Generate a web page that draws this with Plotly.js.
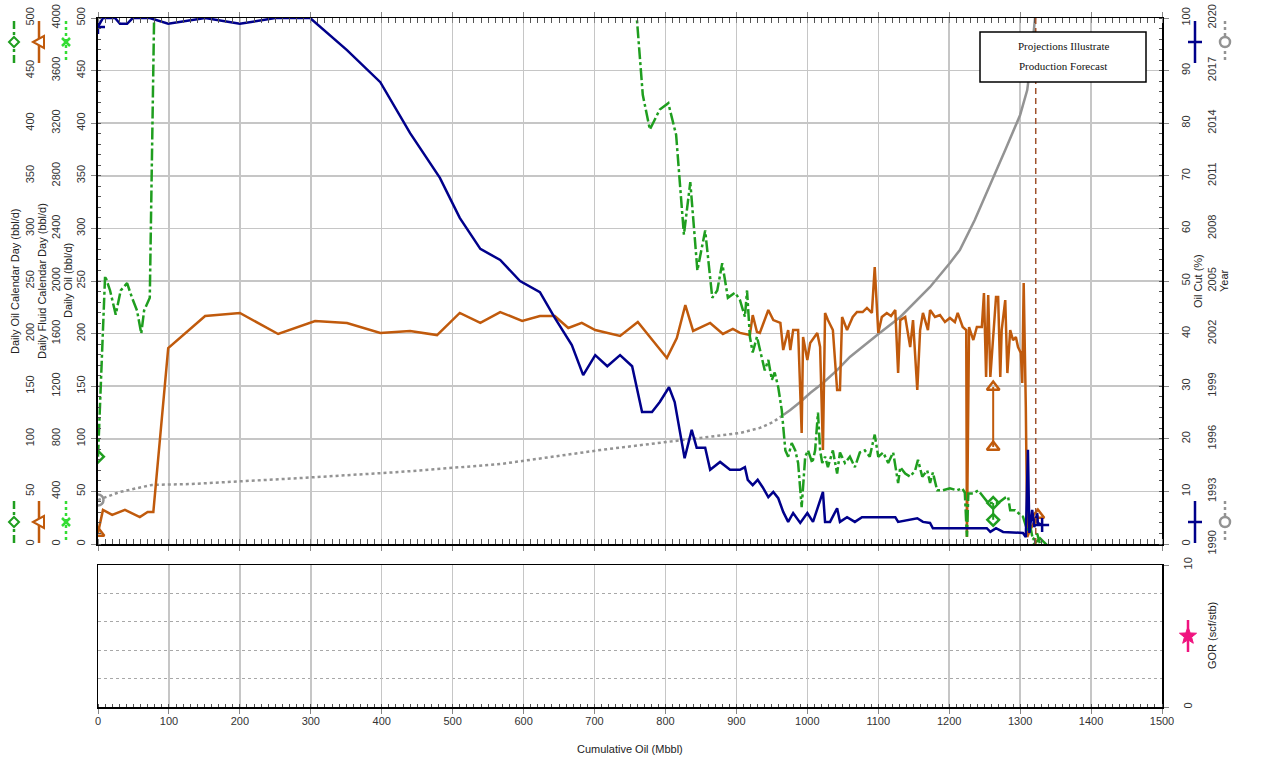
<!DOCTYPE html>
<html>
<head>
<meta charset="utf-8">
<script src="https://cdn.plot.ly/plotly-3.0.1.min.js"></script>
<style>html,body{margin:0;padding:0;background:#fff}#chart{width:1284px;height:758px}</style>
</head>
<body>
<div id="chart"></div>
<script>
// ---------------- DATA ----------------
// Daily Fluid Calendar Day (bbl/d) vs cumulative oil (Mbbl)
const fluidCum = [0,7,20,38,59,70,78,99,151,200,254,306,351,398,440,478,510,539,567,598,623,644,663,682,701,736,761,781,802,816,828,839,863,881,895,905,919,923,929,933,945,952,962,966,973,976,980,987,992,994,1000,1004,1014,1018,1022,1025,1029,1036,1042,1046,1049,1056,1064,1070,1078,1084,1091,1095,1100,1105,1112,1118,1124,1128,1131,1138,1145,1149,1155,1159,1163,1170,1173,1180,1187,1194,1201,1208,1212,1219,1224,1225,1228,1234,1239,1246,1249,1252,1255,1258,1266,1269,1272,1274,1279,1282,1286,1290,1294,1297,1301,1303,1305,1308,1310,1314,1325];
const fluidRate = [84,259,221,259,205,243,243,1490,1734,1757,1597,1696,1681,1605,1620,1589,1757,1681,1764,1696,1734,1734,1643,1681,1627,1582,1688,1551,1414,1567,1817,1620,1681,1597,1635,1605,1589,1741,1612,1605,1779,1703,1681,1475,1627,1475,1627,1627,844,1574,1399,1529,1605,1498,715,1757,1703,1627,1171,1171,1726,1627,1726,1764,1764,1795,1757,2106,1605,1726,1757,1734,1779,1300,1703,1726,1498,1703,1171,1627,1757,1627,1779,1726,1741,1688,1719,1688,1757,1650,1627,53,1650,1551,1650,1650,1909,1270,1894,1270,1878,1878,1270,1627,1855,1300,1627,1551,1574,1498,1452,1224,1985,1042,53,106,220];
const fluidProjCum = [1262,1262];
const fluidProjRate = [1194,738];

// Daily Oil Calendar Day (bbl/d)
const oilCalCum = [0,10,17,25,32,41,48,55,61,65,73,80,755,768,778,792,804,815,826,835,845,856,866,873,880,888,898,905,912,915,919,923,929,936,940,945,950,954,959,964,969,973,978,983,987,992,997,1001,1007,1011,1015,1018,1021,1025,1029,1036,1042,1046,1053,1060,1067,1074,1081,1088,1095,1100,1107,1114,1121,1128,1131,1138,1145,1152,1156,1162,1169,1173,1177,1183,1191,1201,1211,1218,1222,1225,1227,1234,1241,1248,1255,1262,1269,1279,1283,1286,1293,1300,1304,1310,1314,1318,1324,1328];
const oilCalRate = [83,255,241,218,241,248,234,222,200,222,234,540,540,427,394,413,419,389,294,344,260,298,234,241,267,234,239,232,216,241,197,182,197,178,165,175,156,163,149,127,89,83,96,89,77,35,83,89,77,89,125,89,77,83,73,89,67,87,77,83,73,87,89,83,104,83,87,77,87,58,73,67,64,70,80,64,70,58,68,51,51,53,51,53,49,7,48,48,51,45,39,39,39,44,45,32,32,28,26,13,18,4,10,0];
const oilCalProjCum = [1262,1262];
const oilCalProjRate = [39,23];

// Oil Cut (%)
const oilCutCum = [0,7,24,31,41,49,73,99,151,200,250,299,351,398,440,482,510,539,567,595,623,644,668,684,701,718,736,753,767,781,792,805,813,827,837,844,856,863,877,891,905,912,916,923,930,937,945,952,959,966,973,980,990,1000,1008,1015,1022,1025,1032,1042,1046,1056,1067,1077,1112,1124,1128,1155,1163,1173,1177,1253,1258,1266,1276,1304,1308,1311,1313,1317,1320,1324,1325,1331];
const oilCutPct = [98.3,100,100,98.9,98.9,100,100,98.9,100,98.9,100,100,93.9,87.8,78.1,69.6,62.0,56.1,54.0,50.0,47.9,43.0,37.8,32.1,35.9,33.8,35.9,33.8,25.1,25.1,27.0,29.8,27.0,16.3,21.7,18.3,18.3,14.1,15.6,14.1,14.1,14.6,12.2,11.2,12.2,10.8,8.9,9.9,8.7,6.1,4.2,5.9,4.0,5.9,4.2,7.0,9.9,4.2,4.2,6.8,4.2,5.1,4.2,5.1,5.1,5.1,4.2,4.9,4.2,4.0,3.0,3.0,2.3,3.0,2.3,2.1,1.3,17.9,2.1,6.5,3.2,5.9,4.0,3.6];

// Year (history, dotted) and projection (solid)
const yearCum = [0,31,76,130,285,426,567,708,849,905,933,952,966];
const yearVal = [1992.51,1992.97,1993.37,1993.42,1993.76,1994.11,1994.56,1995.36,1996.05,1996.33,1996.62,1996.96,1997.36];
const yearProjCum = [966,976,990,1004,1022,1042,1060,1084,1102,1131,1145,1173,1201,1215,1236,1258,1279,1300,1310,1315,1321];
const yearProjVal = [1997.36,1997.64,1998.10,1998.61,1999.18,1999.92,2000.67,2001.46,2002.03,2002.95,2003.52,2004.66,2006.03,2006.77,2008.48,2010.48,2012.47,2014.47,2015.89,2017.49,2020.0];

const forecastStartCum = 1322;

// Labels
const xTitle = 'Cumulative Oil (Mbbl)';
const leftTitles = ['Daily Oil Calendar Day (bbl/d)', 'Daily Fluid Calendar Day (bbl/d)', 'Daily Oil (bbl/d)'];
const rightTitles = ['Oil Cut (%)', 'Year'];
const gorTitle = 'GOR (scf/stb)';
const noteLines = ['Projections Illustrate', 'Production Forecast'];

// ---------------- STYLE / LAYOUT ----------------
const W = 1284, H = 758;
const X = p => p / W;
const Y = p => 1 - p / H;
const C = {navy:'#00008b', orange:'#c05a0c', green:'#1f9e1f', lime:'#33dd33', gray:'#939393', grid:'#c6c6c6', magenta:'#f0137f', brown:'#a0522d'};
const greenDash = '12px,3px,3px,3px';
const tickFont = {family:'Liberation Sans, Arial, sans-serif', size:11, color:'#333'};

const xDom = [X(98), X(1162)];
const topDom = [Y(544), Y(18)];
const botDom = [Y(707), Y(565)];

const first = a => [a[0]];
const last = a => [a[a.length-1]];

const traces = [
  {x:[], y:[], xaxis:'x', yaxis:'y', type:'scatter', hoverinfo:'skip'},
  {x:[], y:[], xaxis:'x2', yaxis:'y2', type:'scatter', hoverinfo:'skip'},
  // Year (y3)
  {x:yearCum, y:yearVal, xaxis:'x', yaxis:'y3', mode:'lines', line:{color:C.gray, width:2.5, dash:'dot'}},
  {x:yearProjCum, y:yearProjVal, xaxis:'x', yaxis:'y3', mode:'lines', line:{color:C.gray, width:2.5}},
  {x:first(yearCum), y:first(yearVal), xaxis:'x', yaxis:'y3', mode:'markers', marker:{symbol:'circle-open', size:11, color:C.gray, line:{width:2.5}}},
  // Fluid (y4)
  {x:fluidCum, y:fluidRate, xaxis:'x', yaxis:'y4', mode:'lines', line:{color:C.orange, width:2.5}},
  {x:fluidProjCum, y:fluidProjRate, xaxis:'x', yaxis:'y4', mode:'lines+markers', line:{color:C.orange, width:2}, marker:{symbol:'triangle-up-open', size:11, color:C.orange, line:{width:2.5}}},
  {x:first(fluidCum).concat(last(fluidCum)), y:first(fluidRate).concat(last(fluidRate)), xaxis:'x', yaxis:'y4', mode:'markers', marker:{symbol:'triangle-up-open', size:11, color:C.orange, line:{width:2.5}}},
  // Oil calendar day (y5)
  {x:oilCalCum, y:oilCalRate, xaxis:'x', yaxis:'y5', mode:'lines', line:{color:C.green, width:2.5, dash:greenDash}},
  {x:oilCalProjCum, y:oilCalProjRate, xaxis:'x', yaxis:'y5', mode:'lines+markers', line:{color:C.green, width:2}, marker:{symbol:'diamond-open', size:9, color:C.green, line:{width:2.5}}},
  {x:first(oilCalCum).concat(last(oilCalCum)), y:first(oilCalRate).concat(last(oilCalRate)), xaxis:'x', yaxis:'y5', mode:'markers', marker:{symbol:'diamond-open', size:9, color:C.green, line:{width:2.5}}},
  // Oil cut (y6)
  {x:oilCutCum, y:oilCutPct, xaxis:'x', yaxis:'y6', mode:'lines', line:{color:C.navy, width:2.5}},
  {x:first(oilCutCum).concat(last(oilCutCum)), y:first(oilCutPct).concat(last(oilCutPct)), xaxis:'x', yaxis:'y6', mode:'markers', marker:{symbol:'cross-thin-open', size:10, color:C.navy, line:{width:2.5, color:C.navy}}}
];

const baseY = {tickangle:-90, tickfont:tickFont, zeroline:false, showgrid:false, fixedrange:true};

const layout = {
  width:W, height:H, margin:{l:0,r:0,t:0,b:0},
  paper_bgcolor:'#fff', plot_bgcolor:'rgba(0,0,0,0)', showlegend:false,
  font:tickFont,
  xaxis:{domain:xDom, anchor:'y', range:[0,1500], dtick:100, tick0:0, showticklabels:false,
    showgrid:true, gridcolor:C.grid, gridwidth:1.5, zeroline:false,
    showline:true, linecolor:'#000', linewidth:1.5, mirror:'allticks',
    ticks:'outside', ticklen:5, tickcolor:'#888', minor:{dtick:10, ticks:'inside', ticklen:3, tickcolor:'#555'}},
  yaxis:Object.assign({}, baseY, {domain:topDom, anchor:'x', range:[0,500], dtick:50, side:'left',
    showgrid:true, gridcolor:C.grid, gridwidth:1.5,
    showline:true, linecolor:'#000', linewidth:2, mirror:true,
    ticks:'outside', ticklen:5, tickcolor:'#888', ticklabelstandoff:2,
    minor:{dtick:10, ticks:'inside', ticklen:3, tickcolor:'#555'}}),
  yaxis3:Object.assign({}, baseY, {overlaying:'y', anchor:'free', position:X(1204), side:'right', range:[1990,2020], tick0:1990, dtick:3, showline:false, ticks:''}),
  yaxis4:Object.assign({}, baseY, {overlaying:'y', anchor:'free', position:X(62), side:'left', range:[0,4000], dtick:400, showline:false, ticks:''}),
  yaxis5:Object.assign({}, baseY, {overlaying:'y', anchor:'free', position:X(36), side:'left', range:[0,500], dtick:50, showline:false, ticks:''}),
  yaxis6:Object.assign({}, baseY, {overlaying:'y', anchor:'x', side:'right', range:[0,100], dtick:10,
    showline:true, linecolor:'#000', linewidth:1.5, ticks:'outside', ticklen:5, tickcolor:'#888', ticklabelstandoff:8,
    minor:{dtick:2, ticks:'inside', ticklen:3, tickcolor:'#555'}}),
  xaxis2:{domain:xDom, anchor:'y2', range:[0,1500], dtick:100, tick0:0, tickfont:tickFont,
    showgrid:true, gridcolor:C.grid, gridwidth:1.5, zeroline:false,
    showline:true, linecolor:'#000', linewidth:1.5, mirror:true,
    ticks:'outside', ticklen:5, tickcolor:'#888', ticklabelstandoff:-2,
    minor:{dtick:10, ticks:'inside', ticklen:3, tickcolor:'#555'}},
  yaxis2:Object.assign({}, baseY, {domain:botDom, anchor:'x2', side:'right', range:[0,10], tickvals:[0,10],
    showline:true, linecolor:'#000', linewidth:1.5, mirror:true, ticks:'outside', ticklen:5, tickcolor:'#888', ticklabelstandoff:10,
    minor:{dtick:2, showgrid:true, griddash:'dot', gridcolor:'#a8a8a8', gridwidth:1, ticks:''}}),
  shapes:[], annotations:[]
};

// forecast marker line
layout.shapes.push({type:'line', xref:'x', yref:'paper', x0:forecastStartCum, x1:forecastStartCum, y0:topDom[0], y1:topDom[1],
  line:{color:C.brown, width:1.5, dash:'6px,4px'}, layer:'above'});
// note box
layout.shapes.push({type:'rect', xref:'paper', yref:'paper', x0:X(980), x1:X(1146), y0:Y(82), y1:Y(32),
  line:{color:'#000', width:1.5}, fillcolor:'#fff', layer:'above'});
noteLines.forEach((t,i) => layout.annotations.push({xref:'paper', yref:'paper', x:X(1063), y:Y(46+i*20), text:t, showarrow:false,
  xanchor:'center', yanchor:'middle', font:{family:'Liberation Serif, Times New Roman, serif', size:11, color:'#111'}}));

// axis titles
const titleFont = {family:'Liberation Sans, Arial, sans-serif', size:11, color:'#222'};
[[15,leftTitles[0]],[42,leftTitles[1]],[68,leftTitles[2]],[1198,rightTitles[0]],[1224,rightTitles[1]]].forEach(([x,t]) =>
  layout.annotations.push({xref:'paper', yref:'paper', x:X(x), y:Y(281), text:t, textangle:-90, showarrow:false, xanchor:'center', yanchor:'middle', font:titleFont}));
layout.annotations.push({xref:'paper', yref:'paper', x:X(1212), y:Y(636), text:gorTitle, textangle:-90, showarrow:false, xanchor:'center', yanchor:'middle', font:titleFont});
layout.annotations.push({xref:'paper', yref:'paper', x:X(630), y:Y(749), text:xTitle, showarrow:false, xanchor:'center', yanchor:'middle', font:titleFont});

// legend keys drawn as shapes (pixel positions)
const S = layout.shapes;
function L(x0,y0,x1,y1,color,width,dash){S.push({type:'line',xref:'paper',yref:'paper',x0:X(x0),y0:Y(y0),x1:X(x1),y1:Y(y1),line:{color:color,width:width,dash:dash||'solid'},layer:'above'});}
function P(pts,color,fill){S.push({type:'path',xref:'paper',yref:'paper',path:'M'+pts.map(p=>X(p[0])+','+Y(p[1])).join(' L')+' Z',line:{color:color,width:2},fillcolor:fill,layer:'above'});}
function O(x,y,r,color){S.push({type:'circle',xref:'paper',yref:'paper',x0:X(x-r),x1:X(x+r),y0:Y(y+r),y1:Y(y-r),line:{color:color,width:2.5},fillcolor:'#fff',layer:'above'});}
[42,522].forEach(yc => {
  L(14,yc-21,14,yc+21,C.green,2.5,'8px,3px,3px,3px');
  P([[14,yc-5],[19,yc],[14,yc+5],[9,yc]],C.green,'#fff');
  L(39,yc-21,39,yc+21,C.orange,2.5);
  P([[33,yc],[44,yc-6],[44,yc+6]],C.orange,'#fff');
  L(66,yc-21,66,yc+21,C.lime,2.5,'dot');
  L(62,yc-4,70,yc+4,C.lime,2.5); L(62,yc+4,70,yc-4,C.lime,2.5);
  L(1195,yc-21,1195,yc+21,C.navy,2.5);
  L(1188,yc,1202,yc,C.navy,2.5);
  L(1225,yc-21,1225,yc+21,C.gray,2.5,'dot');
  O(1225,yc,5,C.gray);
});
L(1188,620,1188,652,C.magenta,2.5);
(function(){const cx=1188, cy=636, R=9, r=3.8, pts=[];
  for(let i=0;i<10;i++){const a=-Math.PI/2 + i*Math.PI/5; const rr = i%2? r : R; pts.push([cx+rr*Math.sin(a+Math.PI/2)*1, cy+rr*Math.cos(a+Math.PI/2)*-1]);}
  S.push({type:'path',xref:'paper',yref:'paper',path:'M'+pts.map(p=>X(p[0])+','+Y(p[1])).join(' L')+' Z',line:{color:C.magenta,width:1},fillcolor:C.magenta,layer:'above'});
})();

Plotly.newPlot('chart', traces, layout, {staticPlot:true, displayModeBar:false});
</script>
</body>
</html>
